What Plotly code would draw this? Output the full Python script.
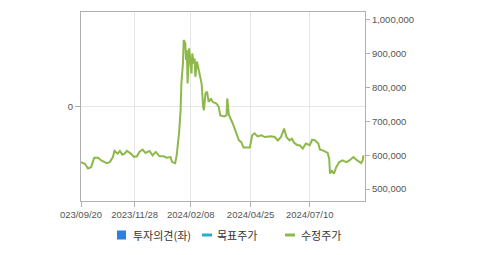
import plotly.graph_objects as go

dates = ["2023-09-20","2023-09-25","2023-09-29","2023-10-03","2023-10-07","2023-10-12","2023-10-16","2023-10-23","2023-10-27",
"2023-10-31","2023-11-02","2023-11-06","2023-11-09","2023-11-12","2023-11-15","2023-11-18","2023-11-23","2023-11-27",
"2023-12-01","2023-12-04","2023-12-08","2023-12-12","2023-12-17","2023-12-21","2023-12-25","2023-12-30",
"2024-01-04","2024-01-08","2024-01-13","2024-01-15","2024-01-19","2024-01-21","2024-01-23","2024-01-24","2024-01-26",
"2024-01-27","2024-01-29","2024-01-30","2024-02-01","2024-02-02","2024-02-03","2024-02-04","2024-02-06","2024-02-07",
"2024-02-09","2024-02-10","2024-02-12","2024-02-13","2024-02-14","2024-02-16","2024-02-19","2024-02-22","2024-02-24",
"2024-02-25","2024-02-27","2024-02-29","2024-03-02","2024-03-05","2024-03-07","2024-03-12","2024-03-15","2024-03-17",
"2024-03-22","2024-03-25","2024-03-26","2024-03-28","2024-04-02","2024-04-06","2024-04-10","2024-04-13","2024-04-16",
"2024-04-24","2024-04-27","2024-04-30","2024-05-04","2024-05-09","2024-05-13","2024-05-21","2024-05-26","2024-05-30",
"2024-06-03","2024-06-07","2024-06-10","2024-06-14","2024-06-17","2024-06-20","2024-06-24","2024-06-27","2024-07-01",
"2024-07-05","2024-07-10","2024-07-13","2024-07-17","2024-07-21","2024-07-23","2024-07-28","2024-07-31","2024-08-02",
"2024-08-04","2024-08-05","2024-08-07","2024-08-10","2024-08-13","2024-08-17","2024-08-21","2024-08-26","2024-08-30",
"2024-09-04","2024-09-09","2024-09-14","2024-09-16","2024-09-17"]

prices = [580000,575000,561000,565000,593000,593000,585000,577000,580000,
595000,613000,605000,613000,602000,605000,613000,605000,595000,
597000,610000,617000,607000,613000,600000,610000,597000,
597000,593000,595000,580000,577000,600000,644000,665000,733000,
812000,871000,941000,931000,882000,911000,812000,916000,891000,
842000,901000,871000,886000,832000,877000,842000,812000,743000,
733000,783000,788000,758000,768000,758000,753000,743000,718000,
715000,718000,768000,720000,694000,670000,644000,639000,623000,
623000,659000,665000,656000,659000,654000,656000,654000,644000,
654000,679000,654000,644000,649000,637000,630000,630000,620000,
635000,630000,646000,644000,635000,617000,613000,610000,607000,
590000,546000,556000,546000,565000,580000,585000,580000,585000,
595000,585000,577000,585000,600000]

x_tick_vals = ["2023-09-20","2023-11-28","2024-02-08","2024-04-25","2024-07-10"]
x_tick_text = ["023/09/20","2023/11/28","2024/02/08","2024/04/25","2024/07/10"]
y2_tick_vals = [500000,600000,700000,800000,900000,1000000]
y2_tick_text = ["500,000","600,000","700,000","800,000","900,000","1,000,000"]

legend_names = ["투자의견(좌)", "목표주가", "수정주가"]
legend_colors = ["#2d7fe0", "#25b0c8", "#8db84a"]

W, H = 479, 255
L, R, T, B = 81, 114, 12, 54
PW, PH = W - L - R, H - T - B

def px(x):
    return (x - L) / PW

def py(y):
    return (H - B - y) / PH

fig = go.Figure()
fig.add_trace(go.Scatter(x=[None], y=[None], mode="markers", name=legend_names[0], yaxis="y",
                         showlegend=False))
fig.add_trace(go.Scatter(x=[None], y=[None], mode="lines", name=legend_names[1], yaxis="y2",
                         showlegend=False))
fig.add_trace(go.Scatter(x=dates, y=prices, mode="lines", name=legend_names[2],
                         line=dict(color=legend_colors[2], width=2), yaxis="y2", showlegend=False))

# manual legend
ly = 235
fig.add_shape(type="rect", xref="paper", yref="paper", x0=px(117), x1=px(126), y0=py(239.5), y1=py(230.5),
              fillcolor=legend_colors[0], line=dict(width=0))
fig.add_shape(type="line", xref="paper", yref="paper", x0=px(202), x1=px(212), y0=py(ly), y1=py(ly),
              line=dict(color=legend_colors[1], width=3))
fig.add_shape(type="line", xref="paper", yref="paper", x0=px(285), x1=px(295), y0=py(ly), y1=py(ly),
              line=dict(color=legend_colors[2], width=3))
for xpos, name in zip([131, 215, 299], legend_names):
    fig.add_annotation(text=name, xref="paper", yref="paper", x=px(xpos), y=py(ly),
                       xanchor="left", yanchor="middle", showarrow=False,
                       font=dict(family="Noto Sans CJK KR", size=11, color="#333333"))

axis_line = "#b0b0b0"
fig.update_layout(
    width=W, height=H,
    margin=dict(l=L, r=R, t=T, b=B, autoexpand=False),
    paper_bgcolor="white", plot_bgcolor="white",
    font=dict(family="Liberation Sans, Arial", size=9.5, color="#555555"),
    showlegend=False,
    xaxis=dict(type="date", range=["2023-09-20", "2024-09-19"],
               tickvals=x_tick_vals, ticktext=x_tick_text,
               showgrid=True, gridcolor="#e6e6e6", gridwidth=1,
               showline=True, linecolor=axis_line, linewidth=1, mirror=True,
               ticks="outside", ticklen=5, tickcolor=axis_line, zeroline=False),
    yaxis=dict(range=[-1, 1], tickvals=[0], ticktext=["0"],
               showgrid=True, gridcolor="#e6e6e6", zeroline=False,
               showline=True, linecolor=axis_line, linewidth=1, mirror=True,
               ticks="outside", ticklen=5, tickcolor=axis_line, fixedrange=True),
    yaxis2=dict(overlaying="y", side="right", range=[465000, 1023500],
                tickvals=y2_tick_vals, ticktext=y2_tick_text,
                showgrid=False, zeroline=False, showline=False,
                ticks="outside", ticklen=4, tickcolor=axis_line),
)

fig.write_html("out.html")
